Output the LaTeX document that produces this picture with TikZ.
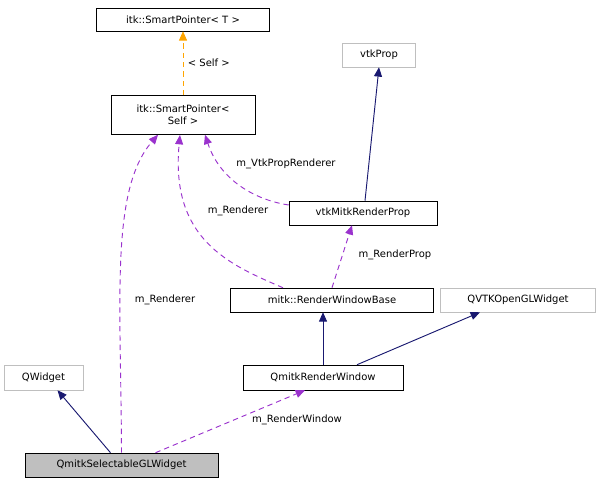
\documentclass[tikz,border=0pt]{standalone}
\usepackage{fontspec}
\setmainfont{DejaVu Sans}
\usetikzlibrary{arrows.meta}
\definecolor{EdgeNavy}{HTML}{191970}
\definecolor{EdgePurple}{HTML}{9A32CD}
\definecolor{EdgeOrange}{HTML}{FFA500}
\definecolor{BoxGray}{HTML}{BFBFBF}
\tikzset{
  cls/.style={draw=black, fill=white, inner sep=2pt, align=center, font=\fontsize{7.5}{9}\selectfont},
  ext/.style={cls, draw=BoxGray},
  inherit/.style={-{Triangle[length=7pt,width=6pt,fill=EdgeNavy]}, draw=EdgeNavy, line width=0.7pt},
  usage/.style={-{Triangle[length=7pt,width=6pt,fill=EdgePurple]}, dash pattern=on 4pt off 3pt, draw=EdgePurple, line width=0.7pt},
  tmpl/.style={-{Triangle[length=7pt,width=6pt,fill=EdgeOrange]}, dash pattern=on 4pt off 3pt, draw=EdgeOrange, line width=0.7pt},
  lbl/.style={font=\fontsize{7.5}{9}\selectfont}
}
\begin{document}
\begin{tikzpicture}[x=0.75pt,y=-0.75pt]
  \useasboundingbox (0,0) rectangle (601,485);
  % classes
  \node[cls, minimum width=173*0.75pt, minimum height=23*0.75pt] (spT) at (183,19.5) {itk::SmartPointer\textless{} T \textgreater};
  \node[cls, minimum width=144*0.75pt, minimum height=39*0.75pt] (spS) at (183,115) {itk::SmartPointer\textless\\Self \textgreater};
  \node[ext, minimum width=73*0.75pt, minimum height=24*0.75pt] (prop) at (379,55) {vtkProp};
  \node[cls, minimum width=148*0.75pt, minimum height=24*0.75pt] (rprop) at (363,213) {vtkMitkRenderProp};
  \node[cls, minimum width=203*0.75pt, minimum height=24*0.75pt] (rwb) at (332,300) {mitk::RenderWindowBase};
  \node[ext, minimum width=155*0.75pt, minimum height=24*0.75pt] (qvtk) at (518,300) {QVTKOpenGLWidget};
  \node[cls, minimum width=160*0.75pt, minimum height=25*0.75pt] (qrw) at (323,377.5) {QmitkRenderWindow};
  \node[ext, minimum width=79*0.75pt, minimum height=25*0.75pt] (qw) at (43.5,377.5) {QWidget};
  \node[cls, fill=BoxGray, minimum width=193*0.75pt, minimum height=24*0.75pt] (sel) at (121.5,465) {QmitkSelectableGLWidget};
  % inheritance
  \draw[inherit] (rprop.north) ++(2,0) -- (prop.south);
  \draw[inherit] (qrw.north) -- (rwb.south -| qrw.north);
  \draw[inherit] (qrw.north) ++(34,0) -- ([xshift=-38pt*0.75]qvtk.south);
  \draw[inherit] (sel.north) ++(-11,0) -- ([xshift=14pt*0.75]qw.south);
  % usage
  \draw[tmpl] (spS.north) -- (spT.south) node[lbl, midway, right] {\textless{} Self \textgreater};
  \draw[usage] (rprop.west) ++(0,-8) .. controls (255,200) and (220,180) .. ([xshift=22*0.75pt]spS.south);
  \node[lbl] at (286,164) {m\_VtkPropRenderer};
  \draw[usage] (rwb.north) ++(-49,0) .. controls (230,265) and (170,240) .. (180,135);
  \node[lbl] at (238,211) {m\_Renderer};
  \draw[usage] (sel.north) .. controls (121,300) and (110,190) .. ([xshift=-25*0.75pt]spS.south);
  \node[lbl] at (165,300) {m\_Renderer};
  \draw[usage] (rwb.north) -- ([xshift=-11*0.75pt]rprop.south);
  \node[lbl] at (395,255) {m\_RenderProp};
  \draw[usage] (sel.north) ++(34,0) -- ([xshift=-18*0.75pt]qrw.south);
  \node[lbl] at (297,420) {m\_RenderWindow};
\end{tikzpicture}
\end{document}
